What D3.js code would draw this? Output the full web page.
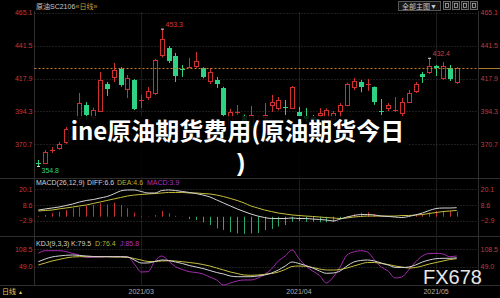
<!DOCTYPE html>
<html><head><meta charset="utf-8">
<script src="https://cdn.jsdelivr.net/npm/d3@7"></script>
<style>body{margin:0;background:#000;overflow:hidden}svg{display:block}</style>
</head><body><svg id="c" width="500" height="298"></svg>
<script>
// ---- data ----
const opens  = [357.6,357.1,366.5,368.2,372.4,377.0,389.6,398.9,390.3,394.6,414.0,419.0,424.7,410.4,416.8,402.1,404.4,407.7,434.8,439.8,434.1,425.0,426.0,426.9,425.4,416.1,416.8,411.1,384.6,393.5,391.0,383.5,386.0,390.3,398.9,396.7,397.8,396.7,393.9,391.0,390.3,392.0,388.1,388.8,394.6,398.9,411.8,415.4,413.0,411.8,394.9,396.7,395.1,393.2,401.1,409.0,421.1,422.6,426.9,418.3,425.4,415.4];
const highs  = [359.5,366.5,368.6,372.4,383.0,379.0,407.5,401.0,397.0,422.6,415.4,429.0,426.0,420.4,417.5,406.1,411.8,432.0,453.3,441.2,436.2,427.6,432.6,436.9,426.0,425.4,419.0,412.0,396.0,398.9,392.0,398.2,391.0,400.3,406.1,404.6,402.5,412.5,397.5,396.7,391.7,396.7,396.5,394.6,400.3,415.0,418.3,416.8,417.6,412.2,403.2,400.3,404.6,403.9,409.7,415.4,422.6,432.4,427.6,429.7,427.6,426.1];
const lows   = [354.8,356.5,364.5,366.9,371.0,373.0,386.0,388.0,389.0,394.0,405.4,415.4,412.0,403.9,395.3,396.7,402.5,406.0,433.0,429.0,415.4,419.0,425.4,425.4,418.0,414.0,411.1,390.3,383.0,392.0,384.0,381.0,384.0,388.1,393.9,395.0,391.7,396.0,388.1,386.7,386.0,389.6,387.0,387.5,390.3,398.0,409.7,408.0,409.0,399.0,391.7,394.6,393.9,390.3,400.3,407.5,414.7,421.1,419.7,417.0,416.1,414.0];
const closes = [357.0,365.4,366.9,370.8,381.7,375.5,400.3,391.7,395.3,416.8,410.4,424.0,413.2,418.3,396.0,402.8,409.2,431.2,446.2,430.5,419.7,424.4,426.5,430.5,419.0,422.6,414.0,391.7,393.9,393.9,386.0,391.7,388.0,391.7,401.1,402.5,397.3,411.8,391.0,388.8,388.1,393.2,395.3,393.2,398.9,414.0,416.1,411.8,413.6,401.1,394.4,398.9,395.5,401.1,407.5,414.0,419.0,426.9,425.4,426.9,417.6,425.4];

const diff = [4.9,5.7,6.4,7.1,8.2,9.3,10.8,11.9,12.6,13.7,14.8,16.7,18.9,19.6,19.6,18.5,17.4,17.4,19.2,19.6,19.2,18.5,17.8,17.0,15.9,14.5,12.3,10.1,7.9,5.7,3.8,2.0,0.5,-0.6,-1.3,-1.3,-1.3,-0.9,-1.3,-1.3,-1.7,-2.0,-2.4,-3.1,-1.7,-0.2,0.9,1.6,1.6,1.3,0.5,0.2,-0.2,-0.6,0.2,1.3,2.7,4.6,6.0,6.4,6.4,6.6];
const dea  = [4.2,4.6,4.9,5.7,6.4,7.1,7.9,8.6,9.7,10.8,11.9,13.0,14.1,15.2,15.9,16.3,16.7,17.0,17.4,17.8,17.8,17.8,17.4,17.4,17.0,16.7,15.9,14.8,13.4,11.9,10.1,7.9,6.4,4.9,3.8,2.7,2.0,1.3,0.9,0.5,0.2,-0.2,-0.6,-0.9,-1.3,-0.9,-0.2,0.2,0.5,0.5,0.5,0.5,0.5,0.9,0.9,1.3,1.6,2.4,3.1,3.8,4.2,4.6];
const macd = [0.5,1.3,2.5,3.7,4.9,6.2,6.9,7.9,8.6,9.8,9.1,10.3,8.6,6.2,3.0,0.5,0.3,1.2,4.2,2.5,0.7,0.2,-1.7,-2.4,-4.1,-6.1,-8.5,-9.7,-11.4,-12.2,-12.6,-12.2,-12.0,-9.7,-9.0,-7.2,-6.1,-3.7,-3.1,-3.7,-3.7,-4.1,-4.1,-3.7,-1.7,0.3,1.8,3.0,3.2,1.8,0.8,0.3,-0.2,-0.5,-0.3,1.2,1.8,3.2,4.2,4.2,4.2,3.9];

const kK = [66.1,75.3,82.2,85.6,88.0,89.0,87.3,85.6,83.9,83.2,83.2,83.2,83.2,82.2,71.9,61.7,61.7,66.8,71.9,70.2,65.1,59.9,53.1,48.0,42.8,36.0,29.2,24.0,17.2,14.8,14.8,14.8,17.2,20.6,27.5,37.7,51.4,65.1,59.9,53.1,44.6,34.3,26.4,27.5,34.3,51.4,65.1,70.2,71.9,68.5,61.7,54.8,46.9,46.3,48.0,54.8,65.1,71.9,76.4,77.7,77.7,79.5];
const kD = [54.8,61.7,68.5,73.6,78.8,82.2,83.2,83.2,83.2,83.2,83.2,82.2,82.2,81.1,77.0,71.9,66.8,66.8,68.5,69.5,68.5,66.1,63.4,60.6,56.5,51.4,44.6,37.7,30.9,25.7,20.6,19.6,20.6,23.0,25.7,30.9,39.4,49.7,51.4,50.4,46.3,41.1,37.7,37.7,39.4,44.6,51.4,58.2,63.4,63.4,59.9,56.5,51.4,48.0,44.6,46.3,51.4,58.2,63.4,68.5,73.6,76.4];
const kJ = [94.8,103.7,103.7,103.7,101.0,94.1,89.0,81.1,81.1,82.2,83.2,83.2,83.2,83.2,58.2,30.9,31.9,68.5,85.6,68.5,49.0,39.4,31.9,29.2,24.0,13.8,3.6,-13.6,-6.7,0.1,3.6,3.6,10.4,22.3,41.1,68.5,85.6,106.1,77.0,51.4,34.3,18.9,-6.7,13.8,48.0,89.0,99.3,103.7,99.3,71.9,48.0,34.3,10.4,13.8,37.7,65.1,85.6,94.1,94.8,92.4,83.2,85.8];

const priceTicks = [465.1, 441.5, 417.9, 394.3, 370.7];
const macdTicks = [20.1, 8.6, -2.9];
const kdjTicks = [108.5, 49.0];
const monthIdx = [15, 38, 58];
const monthLabels = ["2021/03", "2021/04", "2021/05"];

// ---- drawing ----
const svg = d3.select("#c");
const W = 500, H = 298;
const L = 34.5, R = 478.5;
const RED = "#d0302e", GREEN = "#2fd283", AX = "#c23a3a", GRID = "#3a3a3a";
const FONT = "'Liberation Sans','Noto Sans CJK SC',sans-serif";
const N = opens.length;

svg.append("rect").attr("width", W).attr("height", H).attr("fill", "#000");

const x = d3.scaleLinear().domain([0, N - 1]).range([38.3, 456.7]);
const px = i => Math.round(x(i)) + 0.5;
const yP = d3.scaleLinear().domain([370.7, 465.1]).range([144.3, 12.7]);
const yM = d3.scaleLinear().domain([-2.9, 20.1]).range([220.7, 189.3]);
const yK = d3.scaleLinear().domain([49.0, 108.5]).range([266.7, 249.3]);

// frames
const frame = svg.append("g").attr("stroke", "#2e2e2e").attr("stroke-width", 1);
[178.5, 236.5, 285.5].forEach(y => frame.append("line").attr("x1", 0).attr("x2", W).attr("y1", y).attr("y2", y));
frame.append("line").attr("x1", L).attr("x2", L).attr("y1", 11).attr("y2", 285.5);
frame.append("line").attr("x1", R).attr("x2", R).attr("y1", 11).attr("y2", 285.5);
monthIdx.forEach(i => frame.append("line").attr("stroke", "#1c1c1c").attr("x1", px(i)).attr("x2", px(i)).attr("y1", 12).attr("y2", 285));

// grid + axes
function panel(scale, ticks, fmt) {
  svg.append("g").selectAll("line").data(ticks).join("line")
    .attr("x1", L).attr("x2", R)
    .attr("y1", d => Math.round(scale(d)) + 0.5).attr("y2", d => Math.round(scale(d)) + 0.5)
    .attr("stroke", GRID).attr("stroke-dasharray", "1,2");
  const style = g => {
    g.select(".domain").remove();
    g.selectAll("text").attr("fill", AX).style("font-family", FONT).style("font-size", "7px");
  };
  svg.append("g").attr("transform", `translate(32.5,0)`)
    .call(d3.axisLeft(scale).tickValues(ticks).tickSize(0).tickPadding(0).tickFormat(fmt)).call(style);
  svg.append("g").attr("transform", `translate(480.5,0)`)
    .call(d3.axisRight(scale).tickValues(ticks).tickSize(0).tickPadding(0).tickFormat(fmt)).call(style);
}
panel(yP, priceTicks, d3.format(".1f"));
panel(yM, macdTicks, d3.format(".1f"));
panel(yK, kdjTicks, d3.format(".1f"));

// candles
const cg = svg.append("g");
d3.range(N).forEach(i => {
  const o = opens[i], c = closes[i];
  const up = c >= o;
  const col = up ? RED : GREEN;
  const cx = px(i);
  cg.append("line").attr("x1", cx).attr("x2", cx).attr("y1", yP(highs[i])).attr("y2", yP(lows[i]))
    .attr("stroke", col);
  const top = yP(Math.max(o, c)), bot = yP(Math.min(o, c));
  if (bot - top < 1.5) {
    cg.append("line").attr("x1", cx - 2.5).attr("x2", cx + 2.5)
      .attr("y1", Math.round(top) + 0.5).attr("y2", Math.round(top) + 0.5).attr("stroke", col);
  } else if (up) {
    cg.append("rect").attr("x", cx - 2).attr("width", 4)
      .attr("y", Math.round(top) + 0.5).attr("height", Math.round(bot) - Math.round(top))
      .attr("fill", "#000").attr("stroke", col);
  } else {
    cg.append("rect").attr("x", cx - 2.5).attr("width", 5)
      .attr("y", Math.round(top)).attr("height", Math.round(bot) - Math.round(top))
      .attr("fill", col);
  }
});

// current price line
const lastY = Math.round(yP(closes[N - 1])) + 0.5;
svg.append("line").attr("x1", L).attr("x2", R).attr("y1", lastY).attr("y2", lastY)
  .attr("stroke", "#c8802c").attr("stroke-dasharray", "2,2");
svg.append("line").attr("x1", R).attr("x2", W).attr("y1", lastY).attr("y2", lastY)
  .attr("stroke", "#b07a30");

// high/low markers
function mark(i, v, label, color, dy) {
  const cx = px(i), cy = yP(v);
  svg.append("line").attr("x1", cx - 1.5).attr("x2", cx + 1.5).attr("y1", cy).attr("y2", cy).attr("stroke", "#ddd");
  svg.append("text").attr("x", cx + 3).attr("y", cy + dy).text(label)
    .attr("fill", color).style("font-family", FONT).style("font-size", "7px");
}
mark(18, 453.3, "453.3", "#d03a3a", -2);
mark(57, 432.4, "432.4", "#d03a3a", -2);
mark(0, 354.8, "354.8", "#2fd283", 7);

// MACD histogram + lines
svg.append("g").selectAll("line").data(macd).join("line")
  .attr("x1", (d, i) => px(i)).attr("x2", (d, i) => px(i))
  .attr("y1", yM(0)).attr("y2", d => yM(d))
  .attr("stroke", d => d >= 0 ? "#c83232" : "#2ba86c");
const lineM = arr => d3.line().x((d, i) => x(i)).y(d => yM(d)).curve(d3.curveMonotoneX)(arr);
svg.append("path").attr("d", lineM(dea)).attr("fill", "none").attr("stroke", "#c6be3c");
svg.append("path").attr("d", lineM(diff)).attr("fill", "none").attr("stroke", "#d4d4d4");

// KDJ lines
const lineK = arr => d3.line().x((d, i) => x(i)).y(d => yK(d)).curve(d3.curveMonotoneX)(arr);
svg.append("path").attr("d", lineK(kJ)).attr("fill", "none").attr("stroke", "#a42cb0");
svg.append("path").attr("d", lineK(kD)).attr("fill", "none").attr("stroke", "#c6be3c");
svg.append("path").attr("d", lineK(kK)).attr("fill", "none").attr("stroke", "#d4d4d4");

// headers
function tspans(y, parts) {
  parts.forEach(p => svg.append("text").attr("y", y).attr("x", p[0]).attr("fill", p[2]).text(p[1])
    .style("font-family", FONT).style("font-size", "7px"));
}
tspans(9, [[36, "原油SC2106", "#c8c8c8"], [75.5, "«日线»", "#d49a3a"]]);
tspans(185, [[36, "MACD(26,12,9)", "#d0d0d0"], [87, "DIFF:6.6", "#d0d0d0"], [117, "DEA:4.6", "#b8b034"], [147, "MACD:3.9", "#b030c0"]]);
tspans(246, [[36, "KDJ(9,3,3)", "#d0d0d0"], [71, "K:79.5", "#d0d0d0"], [95, "D:76.4", "#b8b034"], [120, "J:85.8", "#b030c0"]]);

// top-right buttons
const btn = svg.append("g");
btn.append("rect").attr("x", 398.5).attr("y", 1.5).attr("width", 42).attr("height", 9)
  .attr("fill", "#141414").attr("stroke", "#555");
btn.append("text").attr("x", 402).attr("y", 9).text("全部主图▼").attr("fill", "#c8c8c8")
  .style("font-family", FONT).style("font-size", "7px");
[443.5, 452.5, 461.5, 470.5].forEach((bx, k) => {
  btn.append("rect").attr("x", bx).attr("y", 1.5).attr("width", 7).attr("height", 8)
    .attr("fill", "#141414").attr("stroke", "#666");
  btn.append("rect").attr("x", bx + 2).attr("y", 3.5).attr("width", 3).attr("height", 4)
    .attr("fill", "none").attr("stroke", "#aaa").attr("stroke-width", 0.8);
});

// bottom axis
svg.append("g").selectAll("text").data(monthIdx).join("text")
  .attr("x", d => x(d)).attr("y", 293.5).attr("text-anchor", "middle")
  .text((d, i) => monthLabels[i]).attr("fill", "#b0b0b0")
  .style("font-family", FONT).style("font-size", "7px");
svg.append("text").attr("x", 2).attr("y", 294).text("日线").attr("fill", "#e6c868")
  .style("font-family", FONT).style("font-size", "7px");
svg.append("text").attr("x", 18).attr("y", 293.5).text("▲").attr("fill", "#e6c868")
  .style("font-family", FONT).style("font-size", "5px");

// watermark
svg.append("text").attr("x", 423).attr("y", 284).text("FX678").attr("fill", "#e6e6e6")
  .style("font-family", "'Liberation Sans',Arial,sans-serif").style("font-size", "20px");

// overlay title
svg.append("rect").attr("x", 68).attr("y", 116).attr("width", 340).attr("height", 61)
  .attr("fill", "#000").attr("opacity", 0.85);
svg.append("text").attr("text-anchor", "middle").attr("fill", "#fff")
  .attr("x", 237.5).attr("y", 140).text("ine原油期货费用(原油期货今日")
  .style("font-family", "'Noto Sans CJK SC',sans-serif").style("font-weight", "700").style("font-size", "24px");
svg.append("text").attr("text-anchor", "middle").attr("fill", "#fff")
  .attr("x", 241).attr("y", 171).text(")")
  .style("font-family", "'Liberation Sans',sans-serif").style("font-weight", "700").style("font-size", "24px");
</script>
</body></html>
